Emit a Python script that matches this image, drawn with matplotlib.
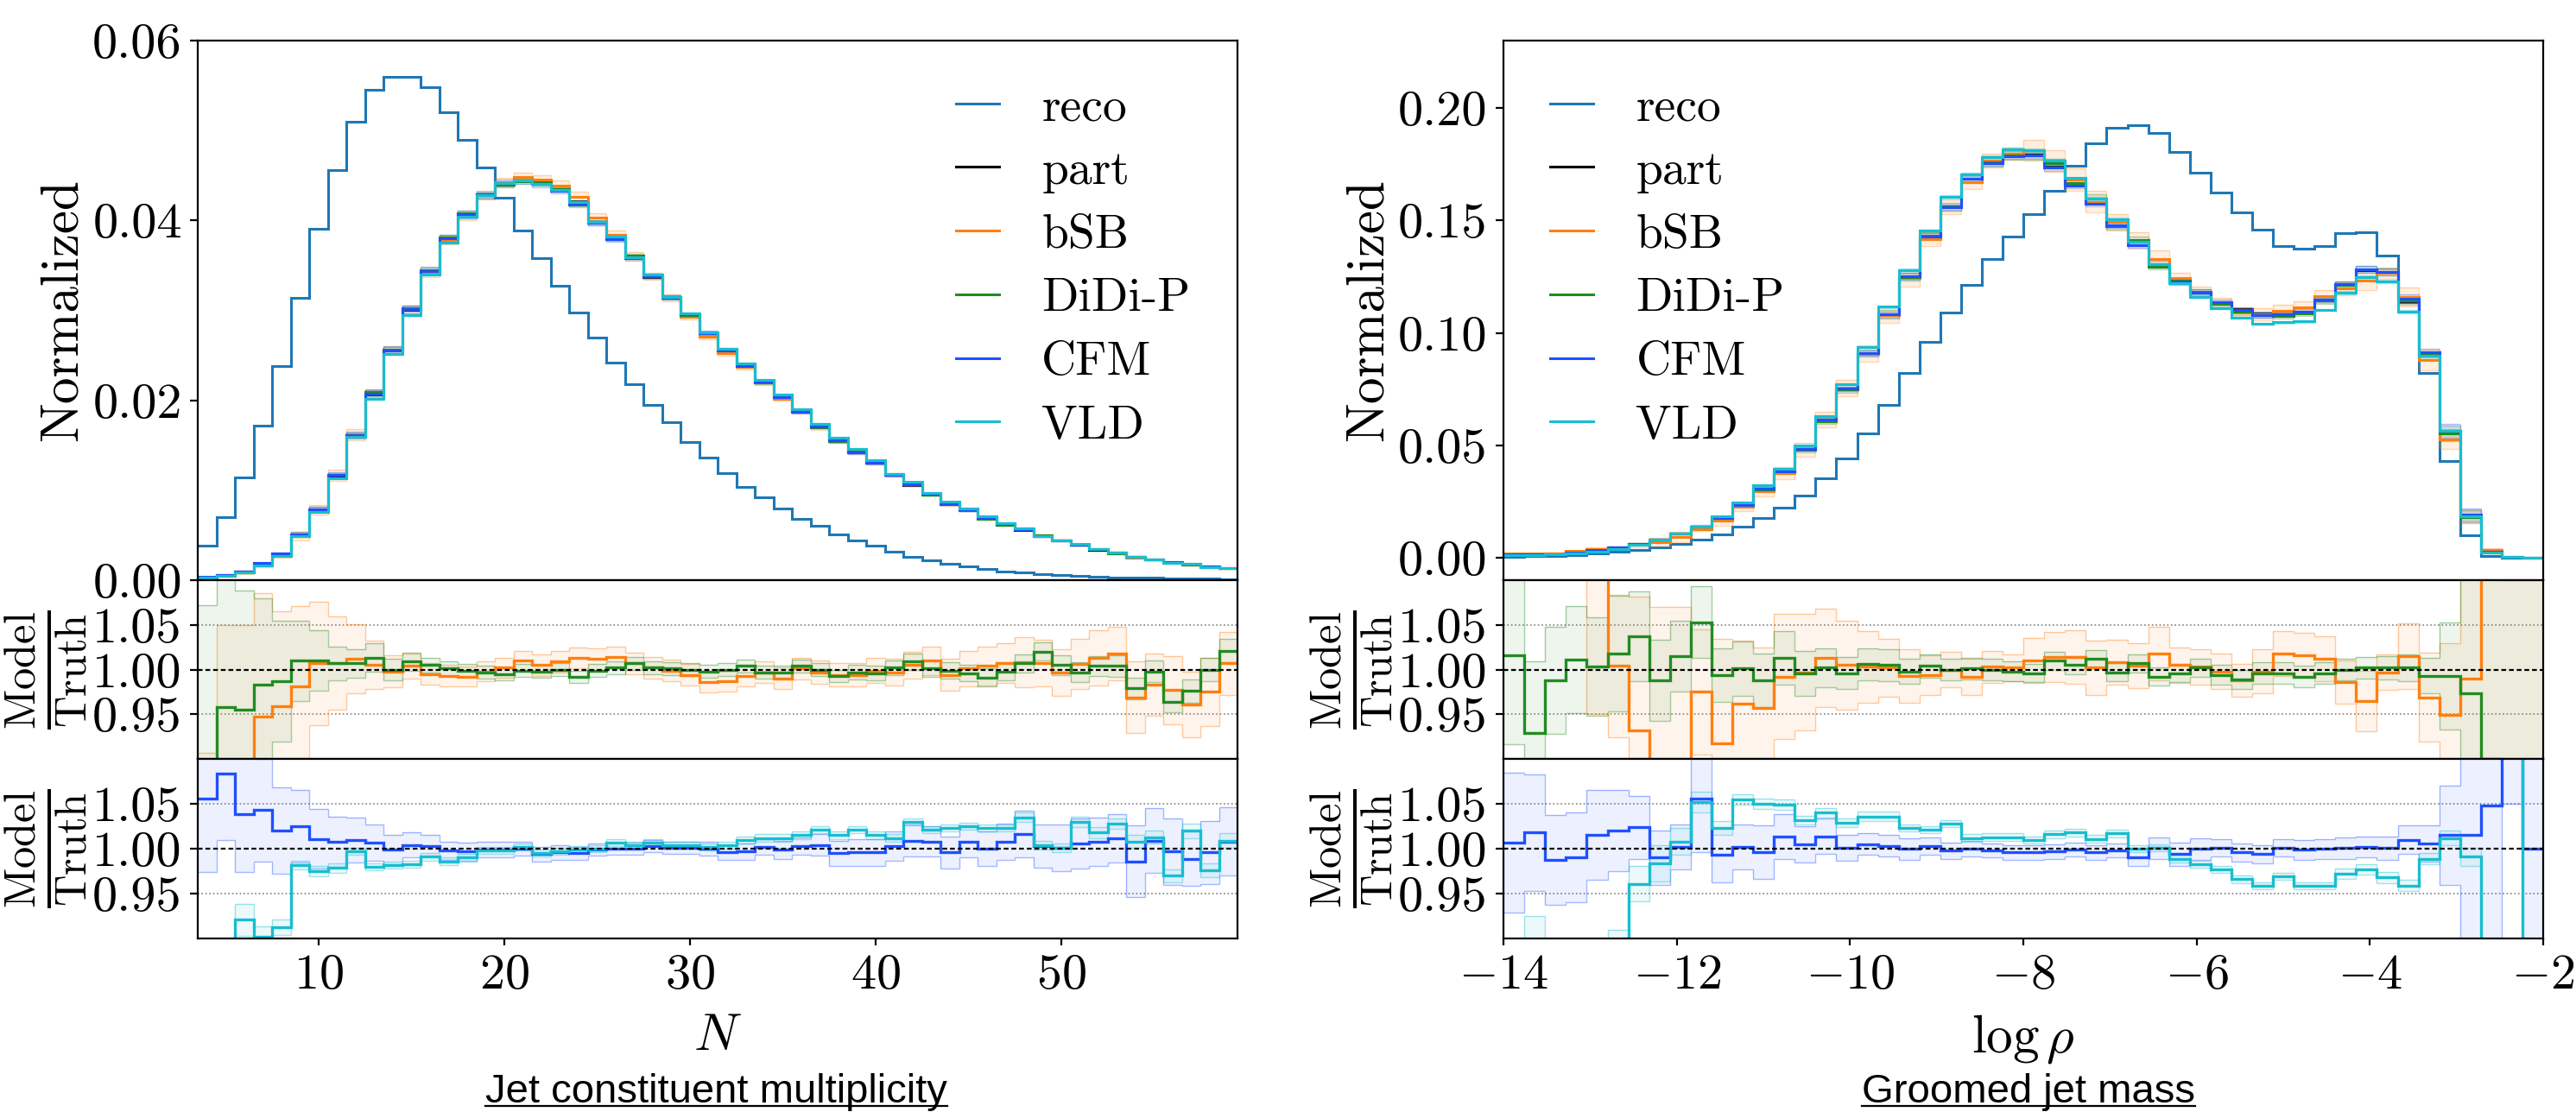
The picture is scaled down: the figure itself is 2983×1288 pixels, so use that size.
"""
Reco / part / generative-model comparison: jet constituent multiplicity and groomed jet mass,
each with two ratio panels (Model / Truth).
"""

import matplotlib

matplotlib.use("Agg")
import matplotlib.pyplot as plt
import numpy as np
from matplotlib.lines import Line2D
from matplotlib.ticker import FormatStrFormatter

plt.rcParams["font.family"] = "serif"
plt.rcParams["font.serif"] = ["cmr10"]
plt.rcParams["mathtext.fontset"] = "cm"
plt.rcParams["axes.formatter.use_mathtext"] = True
plt.rcParams["axes.linewidth"] = 0.8

# Colors
RECO_COLOR = "#1f77b4"
PART_COLOR = "black"
MODEL_NAMES = ["bSB", "DiDi-P", "CFM", "VLD"]
MODEL_COLORS = {"bSB": "#ff7f0e", "DiDi-P": "#228b22", "CFM": "#1f50ff", "VLD": "#17becf"}

# ---------------- Jet constituent multiplicity (N = 4 ... 59) ----------------
N_FIRST_EDGE = 3.5
N_LAST_EDGE = 59.5

LEFT_RECO = [
    0.0038, 0.0070, 0.0114, 0.0172, 0.0238, 0.0314, 0.0391, 0.0456, 0.0510, 0.0545,
    0.0560, 0.0560, 0.0548, 0.0520, 0.0490, 0.0459, 0.0425, 0.0389, 0.0358, 0.0327,
    0.0298, 0.0270, 0.0242, 0.0218, 0.0195, 0.0176, 0.0154, 0.0136, 0.0119, 0.0104,
    0.0092, 0.0080, 0.0068, 0.0060, 0.0051, 0.0044, 0.0038, 0.0032, 0.0026, 0.0022,
    0.0018, 0.0015, 0.00125, 0.0010, 0.00083, 0.00067, 0.00054, 0.00046, 0.00038, 0.00033,
    0.00029, 0.00025, 0.00021, 0.00017, 0.00015, 0.00013,
]
LEFT_PART = [
    0.00033, 0.00054, 0.00096, 0.0018, 0.0029, 0.0050, 0.0078, 0.0116, 0.0160, 0.0206,
    0.0256, 0.0300, 0.0343, 0.0381, 0.0408, 0.0429, 0.0442, 0.0444, 0.0443, 0.0435,
    0.0421, 0.0398, 0.0379, 0.0358, 0.0337, 0.0314, 0.0295, 0.0275, 0.0256, 0.0239,
    0.0220, 0.0204, 0.0187, 0.0170, 0.0156, 0.0143, 0.0131, 0.0117, 0.0106, 0.0095,
    0.0085, 0.0078, 0.0069, 0.0062, 0.0056, 0.0049, 0.0044, 0.0039, 0.0034, 0.0030,
    0.0026, 0.0023, 0.0020, 0.0018, 0.0015, 0.0013,
]
# Model / Truth ratios and their spread (half width)
LEFT_BSB = [
    0.85, 0.85, 0.85, 0.947, 0.959, 0.981, 1.007, 1.007, 1.012, 1.005,
    0.998, 1.004, 0.995, 0.993, 0.992, 0.998, 1.002, 1.010, 1.005, 1.009,
    1.013, 1.012, 1.014, 1.007, 1.002, 0.999, 0.994, 0.986, 0.987, 0.993,
    0.997, 0.990, 1.001, 0.997, 0.994, 0.994, 0.999, 0.997, 1.005, 1.010,
    0.994, 1.001, 1.004, 1.007, 1.008, 1.007, 0.997, 1.006, 1.013, 1.018,
    0.969, 0.983, 0.977, 0.961, 0.975, 1.007,
]
LEFT_BSB_ERR = [
    0.057, 0.20, 0.20, 0.138, 0.106, 0.090, 0.069, 0.052, 0.039, 0.027,
    0.018, 0.014, 0.012, 0.012, 0.011, 0.011, 0.011, 0.011, 0.012, 0.012,
    0.012, 0.012, 0.012, 0.012, 0.012, 0.012, 0.012, 0.012, 0.012, 0.012,
    0.012, 0.012, 0.012, 0.013, 0.013, 0.013, 0.014, 0.015, 0.015, 0.016,
    0.018, 0.020, 0.022, 0.022, 0.028, 0.026, 0.026, 0.028, 0.031, 0.030,
    0.040, 0.035, 0.038, 0.037, 0.038, 0.035,
]
LEFT_DIDI = [
    0.85, 0.958, 0.955, 0.983, 0.987, 1.010, 1.010, 1.007, 1.007, 1.0135,
    1.000, 1.009, 1.005, 1.001, 0.999, 0.997, 0.995, 0.999, 0.998, 1.000,
    0.992, 0.999, 1.002, 1.007, 1.002, 1.001, 1.000, 0.998, 1.000, 1.004,
    0.997, 0.997, 1.004, 1.000, 0.993, 0.997, 0.996, 1.002, 1.009, 1.001,
    0.999, 0.996, 0.991, 0.998, 1.007, 1.020, 1.005, 0.997, 1.004, 1.004,
    0.979, 0.998, 0.964, 0.976, 1.000, 1.021,
]
LEFT_DIDI_ERR = [
    0.222, 0.150, 0.133, 0.097, 0.068, 0.045, 0.034, 0.019, 0.016, 0.016,
    0.012, 0.010, 0.008, 0.008, 0.007, 0.007, 0.007, 0.007, 0.007, 0.007,
    0.007, 0.007, 0.007, 0.007, 0.007, 0.007, 0.007, 0.007, 0.007, 0.007,
    0.007, 0.007, 0.007, 0.007, 0.007, 0.008, 0.008, 0.008, 0.009, 0.009,
    0.009, 0.009, 0.010, 0.010, 0.010, 0.010, 0.011, 0.011, 0.011, 0.012,
    0.012, 0.012, 0.012, 0.013, 0.013, 0.013,
]
LEFT_CFM = [
    1.056, 1.084, 1.039, 1.043, 1.020, 1.025, 1.011, 1.008, 1.0096, 1.007,
    0.999, 1.004, 1.003, 0.998, 0.997, 0.999, 0.999, 1.000, 0.994, 0.996,
    0.995, 0.999, 1.000, 1.000, 1.003, 1.001, 1.001, 1.000, 0.996, 0.997,
    1.002, 0.999, 1.003, 1.004, 0.995, 0.996, 0.996, 1.003, 1.009, 1.008,
    0.996, 1.008, 1.000, 1.008, 1.016, 1.003, 1.001, 1.006, 1.008, 1.012,
    0.986, 1.009, 0.997, 0.989, 0.996, 1.008,
]
LEFT_CFM_ERR = [
    0.082, 0.074, 0.065, 0.057, 0.048, 0.040, 0.033, 0.028, 0.025, 0.020,
    0.016, 0.014, 0.012, 0.010, 0.010, 0.009, 0.009, 0.008, 0.008, 0.008,
    0.007, 0.007, 0.007, 0.007, 0.007, 0.007, 0.007, 0.008, 0.008, 0.009,
    0.009, 0.010, 0.010, 0.012, 0.014, 0.015, 0.015, 0.016, 0.018, 0.017,
    0.018, 0.018, 0.019, 0.020, 0.026, 0.024, 0.026, 0.028, 0.027, 0.027,
    0.040, 0.036, 0.037, 0.030, 0.035, 0.038,
]
LEFT_VLD = [
    0.85, 0.85, 0.921, 0.902, 0.9125, 0.982, 0.975, 0.9785, 0.997, 0.980,
    0.982, 0.983, 0.991, 0.986, 0.990, 0.998, 0.998, 1.002, 0.995, 0.997,
    0.999, 1.000, 1.007, 1.004, 1.007, 1.004, 1.004, 1.002, 1.004, 1.010,
    1.012, 1.012, 1.015, 1.021, 1.015, 1.021, 1.015, 1.012, 1.030, 1.021,
    1.023, 1.025, 1.023, 1.023, 1.035, 1.004, 1.001, 1.030, 1.018, 1.028,
    1.008, 1.013, 0.970, 1.020, 0.976, 1.009,
]
LEFT_VLD_ERR = [
    0.020, 0.020, 0.018, 0.012, 0.009, 0.005, 0.006, 0.005, 0.004, 0.004,
    0.004, 0.004, 0.004, 0.004, 0.004, 0.004, 0.004, 0.004, 0.004, 0.004,
    0.004, 0.004, 0.004, 0.004, 0.004, 0.004, 0.004, 0.004, 0.004, 0.004,
    0.004, 0.004, 0.004, 0.004, 0.004, 0.004, 0.004, 0.004, 0.004, 0.004,
    0.004, 0.004, 0.004, 0.004, 0.005, 0.005, 0.005, 0.006, 0.006, 0.006,
    0.007, 0.007, 0.007, 0.008, 0.008, 0.008,
]

# ---------------- Groomed jet mass (log rho, 50 bins on [-14, -2]) ----------------
RHO_FIRST_EDGE = -14.0
RHO_LAST_EDGE = -2.0
RHO_NBINS = 50

RIGHT_RECO = [
    0.0005, 0.0007, 0.0008, 0.0012, 0.0017, 0.0025, 0.0033, 0.0045, 0.0063, 0.0080,
    0.0105, 0.0138, 0.0175, 0.0222, 0.0277, 0.0352, 0.0443, 0.0552, 0.0680, 0.0820,
    0.0958, 0.1092, 0.1213, 0.1327, 0.1427, 0.1528, 0.1630, 0.1745, 0.1842, 0.1913,
    0.1925, 0.1888, 0.1805, 0.1713, 0.1625, 0.1535, 0.1459, 0.1387, 0.1374, 0.1387,
    0.1442, 0.1449, 0.1344, 0.1135, 0.0821, 0.0428, 0.0101, 0.0008, 0.0, 0.0,
]
RIGHT_PART = [
    0.0015, 0.0015, 0.0017, 0.0024, 0.0032, 0.0045, 0.0060, 0.0081, 0.0107, 0.0131,
    0.0179, 0.0234, 0.0307, 0.0378, 0.0482, 0.0606, 0.0750, 0.0905, 0.1078, 0.1251,
    0.1425, 0.1561, 0.1685, 0.1760, 0.1794, 0.1795, 0.1739, 0.1658, 0.1580, 0.1480,
    0.1405, 0.1304, 0.1236, 0.1180, 0.1135, 0.1105, 0.1085, 0.1080, 0.1095, 0.1148,
    0.1214, 0.1278, 0.1269, 0.1141, 0.0907, 0.0556, 0.0187, 0.0027, 0.0003, 0.0,
]
RIGHT_BSB = [
    1.2, 1.2, 1.2, 1.2, 1.2, 1.004, 0.932, 0.85, 0.85, 0.975,
    0.917, 0.962, 0.957, 0.992, 0.997, 1.013, 1.005, 1.003, 1.002, 0.993,
    0.994, 1.000, 0.992, 1.003, 1.002, 1.010, 1.014, 1.014, 1.002, 1.008,
    1.004, 1.018, 1.005, 1.003, 0.998, 0.988, 0.998, 1.018, 1.016, 1.012,
    0.986, 0.965, 0.997, 1.015, 0.969, 0.949, 0.990, 1.2, 1.2, 1.2,
]
RIGHT_BSB_ERR = [
    0.05, 0.05, 0.05, 0.05, 0.25, 0.08, 0.15, 0.22, 0.22, 0.07,
    0.117, 0.07, 0.068, 0.07, 0.065, 0.055, 0.05, 0.04, 0.032, 0.03,
    0.022, 0.02, 0.02, 0.018, 0.015, 0.025, 0.028, 0.03, 0.03, 0.025,
    0.025, 0.03, 0.02, 0.02, 0.02, 0.018, 0.025, 0.025, 0.025, 0.025,
    0.024, 0.034, 0.02, 0.037, 0.05, 0.08, 0.15, 0.3, 0.3, 0.3,
]
RIGHT_DIDI = [
    1.016, 0.929, 0.988, 1.011, 1.003, 1.018, 1.037, 0.988, 1.015, 1.053,
    0.994, 1.001, 0.988, 1.013, 0.996, 1.002, 0.996, 1.006, 1.005, 0.998,
    1.004, 1.000, 1.001, 1.000, 0.998, 0.996, 1.010, 1.005, 1.012, 0.997,
    1.007, 0.992, 0.996, 1.002, 0.994, 0.989, 0.996, 0.996, 0.992, 0.996,
    1.000, 1.002, 1.002, 1.002, 0.993, 0.993, 0.973, 0.90, 0.8, 0.8,
]
RIGHT_DIDI_ERR = [
    0.10, 0.08, 0.06, 0.06, 0.055, 0.065, 0.05, 0.045, 0.04, 0.04,
    0.03, 0.03, 0.03, 0.03, 0.025, 0.022, 0.018, 0.018, 0.018, 0.014,
    0.013, 0.012, 0.012, 0.012, 0.011, 0.010, 0.010, 0.010, 0.010, 0.010,
    0.010, 0.010, 0.010, 0.010, 0.011, 0.011, 0.012, 0.012, 0.012, 0.012,
    0.012, 0.012, 0.013, 0.015, 0.020, 0.060, 0.150, 0.250, 0.300, 0.300,
]
RIGHT_CFM = [
    1.007, 1.018, 0.988, 0.990, 1.015, 1.020, 1.024, 0.990, 1.002, 1.056,
    0.993, 1.002, 0.996, 1.014, 1.005, 1.014, 1.001, 1.005, 1.003, 1.000,
    1.003, 0.998, 1.000, 0.998, 0.996, 0.996, 0.997, 0.999, 0.996, 0.998,
    0.990, 1.001, 0.994, 1.000, 1.001, 0.996, 0.994, 1.001, 0.999, 1.000,
    1.001, 1.002, 1.001, 1.010, 1.006, 1.015, 1.015, 1.048, 1.3, 1.0,
]
RIGHT_CFM_ERR = [
    0.078, 0.065, 0.05, 0.05, 0.05, 0.045, 0.035, 0.03, 0.025, 0.06,
    0.03, 0.025, 0.03, 0.025, 0.02, 0.02, 0.014, 0.012, 0.012, 0.012,
    0.010, 0.009, 0.009, 0.008, 0.008, 0.008, 0.008, 0.008, 0.008, 0.008,
    0.009, 0.012, 0.013, 0.012, 0.010, 0.010, 0.010, 0.010, 0.011, 0.011,
    0.012, 0.012, 0.013, 0.016, 0.020, 0.055, 0.150, 0.250, 0.250, 0.250,
]
RIGHT_VLD = [
    0.8, 0.85, 0.8, 0.8, 0.8, 0.85, 0.961, 0.984, 1.008, 1.052,
    1.023, 1.055, 1.050, 1.049, 1.032, 1.040, 1.029, 1.036, 1.036, 1.023,
    1.021, 1.028, 1.012, 1.013, 1.013, 1.010, 1.016, 1.018, 1.011, 1.017,
    1.000, 1.001, 0.989, 0.983, 0.977, 0.966, 0.959, 0.969, 0.959, 0.959,
    0.972, 0.977, 0.968, 0.959, 0.989, 1.012, 0.991, 0.8, 0.8, 1.3,
]
RIGHT_VLD_ERR = [
    0.05, 0.075, 0.05, 0.05, 0.05, 0.06, 0.02, 0.02, 0.015, 0.012,
    0.008, 0.006, 0.006, 0.006, 0.005, 0.005, 0.005, 0.005, 0.005, 0.004,
    0.004, 0.004, 0.004, 0.004, 0.004, 0.004, 0.004, 0.004, 0.004, 0.004,
    0.004, 0.004, 0.004, 0.004, 0.004, 0.004, 0.004, 0.004, 0.004, 0.004,
    0.006, 0.006, 0.006, 0.006, 0.006, 0.008, 0.010, 0.05, 0.05, 0.05,
]

LEFT_RATIOS = {"bSB": LEFT_BSB, "DiDi-P": LEFT_DIDI, "CFM": LEFT_CFM, "VLD": LEFT_VLD}
LEFT_ERRORS = {"bSB": LEFT_BSB_ERR, "DiDi-P": LEFT_DIDI_ERR, "CFM": LEFT_CFM_ERR, "VLD": LEFT_VLD_ERR}
RIGHT_RATIOS = {"bSB": RIGHT_BSB, "DiDi-P": RIGHT_DIDI, "CFM": RIGHT_CFM, "VLD": RIGHT_VLD}
RIGHT_ERRORS = {"bSB": RIGHT_BSB_ERR, "DiDi-P": RIGHT_DIDI_ERR, "CFM": RIGHT_CFM_ERR, "VLD": RIGHT_VLD_ERR}

# Layout (figure fractions)
FIG_W, FIG_H, DPI = 2983 / 200, 1288 / 200, 200
PANEL_W = 0.4036
LEFT_X0, RIGHT_X0 = 0.0769, 0.5837
MAIN_Y0, MAIN_H = 0.4783, 0.4852
R1_Y0, R1_H = 0.3175, 0.1608
R2_Y0, R2_H = 0.1560, 0.1615

TICK_FS = 21
LABEL_FS = 22
RATIO_LABEL_FS = 26
LEGEND_FS = 20
LW_MAIN = 1.1
LW_RATIO = 1.2


def make_axes(fig, x0):
    ax_main = fig.add_axes([x0, MAIN_Y0, PANEL_W, MAIN_H])
    ax_r1 = fig.add_axes([x0, R1_Y0, PANEL_W, R1_H], sharex=ax_main)
    ax_r2 = fig.add_axes([x0, R2_Y0, PANEL_W, R2_H], sharex=ax_main)
    for ax in (ax_main, ax_r1, ax_r2):
        ax.tick_params(axis="y", direction="out", length=3.2, width=0.8, pad=3.5, labelsize=TICK_FS)
    for ax in (ax_main, ax_r1):
        ax.tick_params(axis="x", bottom=False, labelbottom=False)
    ax_r2.tick_params(axis="x", direction="out", length=3.0, width=0.8, pad=3.5, labelsize=TICK_FS)
    return ax_main, ax_r1, ax_r2


def draw_main(ax, edges, reco, part, ratios, errors):
    part = np.asarray(part)
    ax.stairs(reco, edges, color=RECO_COLOR, lw=LW_MAIN, baseline=None)
    ax.stairs(part, edges, color=PART_COLOR, lw=LW_MAIN, baseline=None)
    for name in MODEL_NAMES:
        r = np.asarray(ratios[name])
        e = np.asarray(errors[name])
        c = MODEL_COLORS[name]
        ax.stairs(part * (r + e), edges, baseline=part * (r - e), fill=True, color=c, alpha=0.12, lw=0)
        ax.stairs(part * (r + e), edges, color=c, alpha=0.3, lw=0.5, baseline=None)
        ax.stairs(part * (r - e), edges, color=c, alpha=0.3, lw=0.5, baseline=None)
    for name in MODEL_NAMES:
        r = np.asarray(ratios[name])
        ax.stairs(part * r, edges, color=MODEL_COLORS[name], lw=LW_MAIN, baseline=None)


def draw_ratio(ax, edges, names, ratios, errors):
    for name in names:
        r = np.asarray(ratios[name])
        e = np.asarray(errors[name])
        c = MODEL_COLORS[name]
        ax.stairs(r + e, edges, baseline=r - e, fill=True, color=c, alpha=0.08, lw=0)
        ax.stairs(r + e, edges, color=c, alpha=0.4, lw=0.5, baseline=None)
        ax.stairs(r - e, edges, color=c, alpha=0.4, lw=0.5, baseline=None)
    for name in names:
        ax.stairs(ratios[name], edges, color=MODEL_COLORS[name], lw=LW_RATIO, baseline=None)
    for y in (0.95, 1.05):
        ax.axhline(y, color="gray", ls=":", lw=0.6, zorder=0.5)
    ax.axhline(1.0, color="black", ls=(0, (2.5, 1.5)), lw=0.8, zorder=5)
    ax.set_ylim(0.9, 1.1)
    ax.set_yticks([0.95, 1.00, 1.05])
    ax.yaxis.set_major_formatter(FormatStrFormatter("%.2f"))
    ax.set_ylabel(r"$\frac{\mathrm{Model}}{\mathrm{Truth}}$", fontsize=RATIO_LABEL_FS)


def add_legend(ax, anchor):
    handles = [Line2D([], [], color=RECO_COLOR, lw=LW_MAIN), Line2D([], [], color=PART_COLOR, lw=LW_MAIN)]
    handles += [Line2D([], [], color=MODEL_COLORS[n], lw=LW_MAIN) for n in MODEL_NAMES]
    labels = ["reco", "part"] + MODEL_NAMES
    ax.legend(
        handles, labels, loc="upper left", bbox_to_anchor=anchor, borderaxespad=0, borderpad=0,
        frameon=False, fontsize=LEGEND_FS, handlelength=0.9, handletextpad=0.89, labelspacing=0.43,
    )


fig = plt.figure(figsize=(FIG_W, FIG_H), dpi=DPI)

# Left: jet constituent multiplicity
n_edges = np.arange(N_FIRST_EDGE, N_LAST_EDGE + 0.5, 1.0)
axL, axL1, axL2 = make_axes(fig, LEFT_X0)
draw_main(axL, n_edges, LEFT_RECO, LEFT_PART, LEFT_RATIOS, LEFT_ERRORS)
draw_ratio(axL1, n_edges, ["bSB", "DiDi-P"], LEFT_RATIOS, LEFT_ERRORS)
draw_ratio(axL2, n_edges, ["CFM", "VLD"], LEFT_RATIOS, LEFT_ERRORS)
axL.set_xlim(N_FIRST_EDGE, N_LAST_EDGE)
axL.set_ylim(0, 0.06)
axL.set_yticks([0.0, 0.02, 0.04, 0.06])
axL.yaxis.set_major_formatter(FormatStrFormatter("%.2f"))
axL.set_ylabel("Normalized", fontsize=LABEL_FS)
axL2.set_xticks([10, 20, 30, 40, 50])
axL2.set_xlabel(r"$N$", fontsize=LABEL_FS, labelpad=6)
add_legend(axL, (0.7287, 0.915))

# Right: groomed jet mass
rho_edges = np.linspace(RHO_FIRST_EDGE, RHO_LAST_EDGE, RHO_NBINS + 1)
axR, axR1, axR2 = make_axes(fig, RIGHT_X0)
draw_main(axR, rho_edges, RIGHT_RECO, RIGHT_PART, RIGHT_RATIOS, RIGHT_ERRORS)
draw_ratio(axR1, rho_edges, ["bSB", "DiDi-P"], RIGHT_RATIOS, RIGHT_ERRORS)
draw_ratio(axR2, rho_edges, ["CFM", "VLD"], RIGHT_RATIOS, RIGHT_ERRORS)
axR.set_xlim(RHO_FIRST_EDGE, RHO_LAST_EDGE)
axR.set_ylim(-0.01, 0.23)
axR.set_yticks([0.0, 0.05, 0.10, 0.15, 0.20])
axR.yaxis.set_major_formatter(FormatStrFormatter("%.2f"))
axR.set_ylabel("Normalized", fontsize=LABEL_FS)
axR2.set_xticks([-14, -12, -10, -8, -6, -4, -2])
axR2.set_xlabel(r"$\log\rho$", fontsize=LABEL_FS, labelpad=6)
add_legend(axR, (0.0447, 0.915))

# Align y labels
for ax in (axL, axR):
    ax.yaxis.set_label_coords(-0.107, 0.5)
for ax in (axL1, axL2, axR1, axR2):
    ax.yaxis.set_label_coords(-0.104, 0.5)

# Underlined panel titles
TITLE_FAMILY = ["Liberation Sans Narrow", "Liberation Sans", "DejaVu Sans"]
TITLE_Y = 0.0088
titles = [
    fig.text(0.278, TITLE_Y, "Jet constituent multiplicity", ha="center", va="baseline", fontsize=17, family=TITLE_FAMILY),
    fig.text(0.7875, TITLE_Y, "Groomed jet mass", ha="center", va="baseline", fontsize=17, family=TITLE_FAMILY),
]
fig.canvas.draw()
renderer = fig.canvas.get_renderer()
for t in titles:
    bb = t.get_window_extent(renderer).transformed(fig.transFigure.inverted())
    y_line = TITLE_Y - 4.0 / 1288
    fig.add_artist(Line2D([bb.x0, bb.x1], [y_line, y_line], transform=fig.transFigure, color="black", lw=0.8))

fig.savefig("out.png", dpi=DPI)
